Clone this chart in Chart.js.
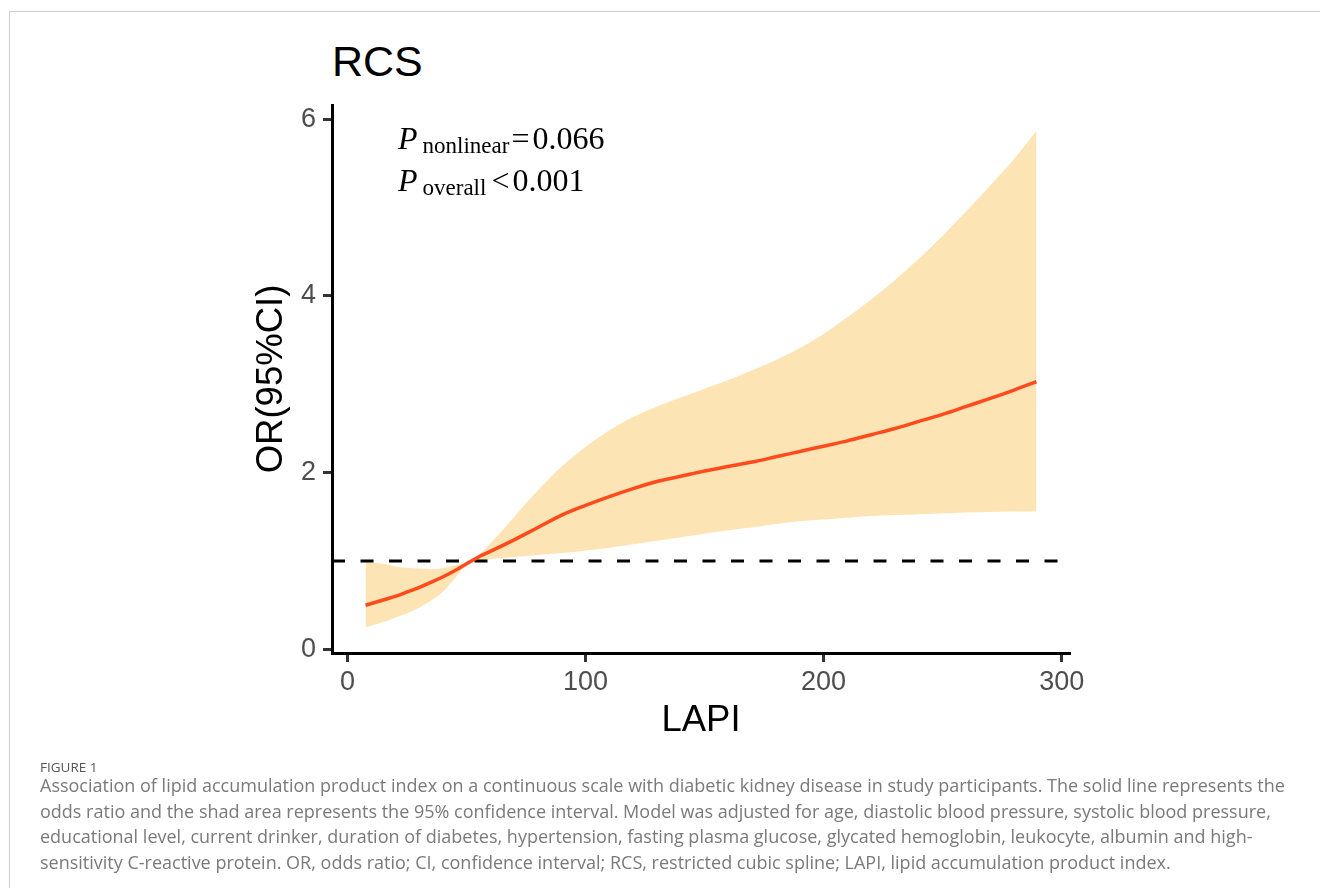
<!DOCTYPE html>
<html>
<head>
<meta charset="utf-8">
<script src="https://cdn.jsdelivr.net/npm/chart.js@4.4.1/dist/chart.umd.min.js"></script>
<style>
    html, body { margin: 0; padding: 0; background: #fff; }
    body { width: 1320px; height: 888px; position: relative; overflow: hidden; }
    .frame { position: absolute; left: 9px; top: 11px; right: -2px; bottom: -2px; border-left: 1px solid #cfcfcf; border-top: 1px solid #cfcfcf; }
    #wrap { position: absolute; left: 240px; top: 0; width: 860px; height: 760px; }
    .title { position: absolute; left: 332px; top: 38px; font: 43px "Liberation Sans", Arial, sans-serif; line-height: 47px; color: #000; }
    .note { position: absolute; left: 398px; top: 117px; font-family: "Liberation Serif", "Times New Roman", serif; font-size: 32px; color: #000; white-space: nowrap; }
    .note div { height: 42px; line-height: 42px; }
    .note i { font-style: italic; }
    .note .sub { font-size: 23px; position: relative; top: 4px; margin-left: 5px; }
    .caption { position: absolute; left: 40px; top: 761px; font-family: "Open Sans", Lato, sans-serif; color: #7a7a7a; white-space: nowrap; }
    .caption .fig { font-size: 13.5px; color: #555; line-height: 12px; }
    .caption .txt { font-size: 18px; line-height: 25.5px; }
</style>
</head>
<body>
<div class="frame"></div>
<div class="title">RCS</div>
<div id="wrap"><canvas id="rcsChart"></canvas></div>
<div class="note">
    <div><i>P</i><span class="sub">nonlinear</span><span style="margin-left:2px">=</span><span style="margin-left:3px">0.066</span></div>
    <div><i>P</i><span class="sub">overall</span><span style="margin-left:5px">&lt;</span><span style="margin-left:3px">0.001</span></div>
</div>
<div class="caption">
    <div class="fig">FIGURE 1</div>
    <div class="txt">Association of lipid accumulation product index on a continuous scale with diabetic kidney disease in study participants. The solid line represents the</div>
    <div class="txt">odds ratio and the shad area represents the 95% confidence interval. Model was adjusted for age, diastolic blood pressure, systolic blood pressure,</div>
    <div class="txt">educational level, current drinker, duration of diabetes, hypertension, fasting plasma glucose, glycated hemoglobin, leukocyte, albumin and high-</div>
    <div class="txt">sensitivity C-reactive protein. OR, odds ratio; CI, confidence interval; RCS, restricted cubic spline; LAPI, lipid accumulation product index.</div>
</div>
<script>
// values
const lapi = [7.6, 15, 20, 25, 30, 35, 40, 45, 52, 56, 60, 70, 80, 90, 100, 110, 120, 130, 140, 150,
              160, 170, 180, 190, 200, 210, 220, 230, 240, 250, 260, 270, 280, 289.4];
const orValue = [0.50, 0.56, 0.60, 0.65, 0.70, 0.76, 0.82, 0.89, 1.00, 1.06, 1.11, 1.24, 1.38, 1.52, 1.63, 1.73, 1.82, 1.90, 1.96, 2.02,
                 2.07, 2.12, 2.18, 2.24, 2.30, 2.36, 2.43, 2.50, 2.58, 2.66, 2.75, 2.84, 2.935, 3.03];
const ciUpper = [0.99, 0.97, 0.94, 0.925, 0.915, 0.91, 0.92, 0.95, 1.00, 1.09, 1.20, 1.50, 1.80, 2.07, 2.29, 2.48, 2.63, 2.75, 2.85, 2.95,
                 3.05, 3.16, 3.275, 3.41, 3.57, 3.76, 3.96, 4.18, 4.42, 4.68, 4.96, 5.25, 5.55, 5.87];
const ciLower = [0.25, 0.31, 0.36, 0.41, 0.47, 0.55, 0.65, 0.80, 1.00, 1.01, 1.02, 1.045, 1.07, 1.09, 1.12, 1.15, 1.19, 1.23, 1.27, 1.31,
                 1.35, 1.38, 1.42, 1.45, 1.47, 1.49, 1.51, 1.52, 1.53, 1.54, 1.55, 1.555, 1.56, 1.56];
const refOR = 1;
const xTicks = [0, 100, 200, 300];
const yTicks = [0, 2, 4, 6];
const xRange = [-6.5, 303.5];
const yRange = [-0.04, 6.16];

const pts = ys => lapi.map((x, i) => ({ x: x, y: ys[i] }));
const tickFont = { family: '"Liberation Sans", Arial, sans-serif', size: 27 };
const titleFont = { family: '"Liberation Sans", Arial, sans-serif', size: 36.5 };

const axisCommon = {
    type: 'linear',
    border: { display: true, color: '#000', width: 3 },
    grid: { drawOnChartArea: false, drawTicks: true, tickLength: 9, tickWidth: 3, tickColor: '#333' },
};

const ctx = document.getElementById('rcsChart').getContext('2d');
new Chart(ctx, {
    type: 'line',
    data: {
        datasets: [
            {   // odds ratio
                data: pts(orValue), borderColor: '#FF4A1C', borderWidth: 3.5,
                pointRadius: 0, cubicInterpolationMode: 'monotone', fill: false
            },
            {   // reference line OR = 1
                data: [{ x: xRange[0], y: refOR }, { x: xRange[1], y: refOR }],
                borderColor: '#000', borderWidth: 3, borderDash: [13, 15.5],
                pointRadius: 0, fill: false
            },
            {   // lower CI
                data: pts(ciLower), borderWidth: 0, borderColor: 'rgba(0,0,0,0)',
                pointRadius: 0, cubicInterpolationMode: 'monotone', fill: false
            },
            {   // upper CI, filled down to lower
                data: pts(ciUpper), borderWidth: 0, borderColor: 'rgba(0,0,0,0)',
                backgroundColor: '#FDE4B4', pointRadius: 0, cubicInterpolationMode: 'monotone', fill: '-1'
            }
        ]
    },
    options: {
        responsive: true,
        maintainAspectRatio: false,
        animation: false,
        events: [],
        layout: { padding: { top: 105, right: 30, left: 0, bottom: 0 } },
        plugins: { legend: { display: false }, tooltip: { enabled: false } },
        scales: {
            x: Object.assign({}, axisCommon, {
                min: xRange[0], max: xRange[1],
                afterFit: s => { s.height = 107; },
                afterBuildTicks: s => { s.ticks = xTicks.map(v => ({ value: v })); },
                ticks: { font: tickFont, color: '#4d4d4d', padding: 4, maxRotation: 0 },
                title: { display: true, text: 'LAPI', font: titleFont, color: '#000', padding: { top: 0, bottom: 17 } }
            }),
            y: Object.assign({}, axisCommon, {
                min: yRange[0], max: yRange[1],
                afterFit: s => { s.width = 92; },
                afterBuildTicks: s => { s.ticks = yTicks.map(v => ({ value: v })); },
                ticks: { font: tickFont, color: '#4d4d4d', padding: 7 },
                title: { display: true, text: 'OR(95%CI)', font: titleFont, color: '#000', padding: { top: 10, bottom: 0 } }
            })
        }
    }
});
</script>
</body>
</html>
